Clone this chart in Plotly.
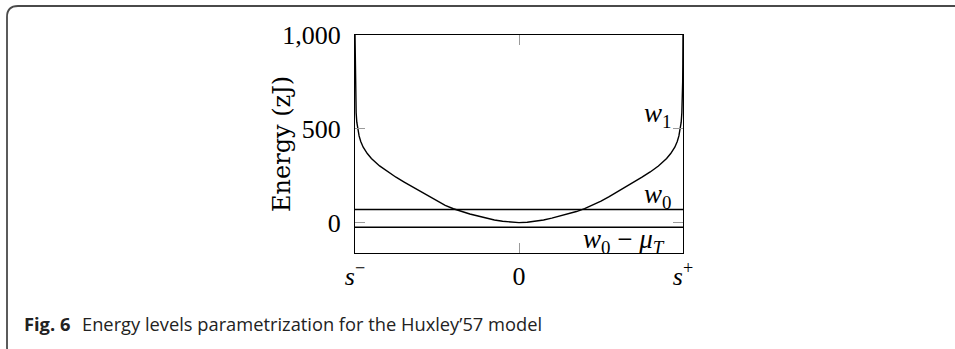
import plotly.graph_objects as go

# Position between the two binding sites, s- = -1 and s+ = +1
s_pos = [-1.0, -0.999, -0.998, -0.996, -0.993, -0.989, -0.983, -0.975, -0.965, -0.95,
         -0.925, -0.90, -0.85, -0.80, -0.75, -0.70, -0.65, -0.60, -0.55, -0.50,
         -0.45, -0.40, -0.35, -0.30, -0.25, -0.20, -0.15, -0.10, -0.05,
         0.0,
         0.05, 0.10, 0.15, 0.20, 0.25, 0.30, 0.35, 0.40, 0.45, 0.50,
         0.55, 0.60, 0.65, 0.70, 0.75, 0.80, 0.85, 0.90, 0.925, 0.95,
         0.965, 0.975, 0.983, 0.989, 0.993, 0.996, 0.998, 0.999, 1.0]
# Attached-state energy w1 (zJ)
w1 = [1000, 850, 750, 655, 585, 535, 495, 462, 432, 402,
      368, 342, 302, 270, 242, 216, 191, 163, 138, 114,
      92, 74, 59, 46, 35, 24, 14, 7, 2,
      0,
      2, 7, 14, 24, 35, 46, 59, 74, 92, 114,
      138, 163, 191, 216, 242, 270, 302, 342, 368, 402,
      432, 462, 495, 535, 585, 655, 750, 850, 1000]
# Detached-state energy levels (zJ)
w0 = 70
w0_minus_mu = -25

x_ticks = [-1, 0, 1]
x_tick_text = ["<i>s</i><sup>−</sup>", "0", "<i>s</i><sup>+</sup>"]
y_ticks = [0, 500, 1000]
y_tick_text = ["0", "500", "1,000"]

serif = "Liberation Serif"

fig = go.Figure()
fig.add_trace(go.Scatter(x=s_pos, y=w1, mode="lines",
                         line=dict(color="black", width=1.4),
                         hoverinfo="skip", showlegend=False))
for level in (w0, w0_minus_mu):
    fig.add_trace(go.Scatter(x=[-1, 1], y=[level, level], mode="lines",
                             line=dict(color="black", width=1.4),
                             hoverinfo="skip", showlegend=False))

L, R, T, B = 355, 272, 35, 96
W, H = 955, 349
PW, PH = W - L - R, H - T - B


def px(X):
    return (X - L) / PW


def py(Y):
    return 1 - (Y - T) / PH


# Rounded outer frame
frame = (f"M {px(20)},{py(360)} Q {px(7)},{py(360)} {px(7)},{py(347)} "
         f"L {px(7)},{py(17)} Q {px(7)},{py(6)} {px(18)},{py(6)} L {px(965)},{py(6)}")
fig.add_shape(type="path", path=frame, xref="paper", yref="paper",
              line=dict(color="#4a4a4a", width=1.8), layer="below")

lab_font = dict(family=serif, size=27, color="black")
fig.add_annotation(x=0.94, y=575, xref="x", yref="y", text="<i>w</i><sub>1</sub>",
                   showarrow=False, xanchor="right", yanchor="middle", font=lab_font)
fig.add_annotation(x=0.94, y=w0 + 74, xref="x", yref="y", text="<i>w</i><sub>0</sub>",
                   showarrow=False, xanchor="right", yanchor="middle", font=lab_font)
fig.add_annotation(x=0.90, y=w0_minus_mu - 72, xref="x", yref="y",
                   text="<i>w</i><sub>0</sub> − <i>μ</i><sub><i>T</i></sub>",
                   showarrow=False, xanchor="right", yanchor="middle", font=lab_font)

# Y axis title
fig.add_annotation(x=px(282), y=py(144), xref="paper", yref="paper", text="Energy (zJ)",
                   textangle=-90, showarrow=False, xanchor="center", yanchor="middle",
                   font=dict(family="DejaVu Serif", size=24, color="black"))

cap_font = dict(family="Open Sans", size=18.3, color="#222")
fig.add_annotation(x=px(22), y=py(323), xref="paper", yref="paper", text="<b>Fig. 6</b>",
                   showarrow=False, xanchor="left", yanchor="middle", font=cap_font)
fig.add_annotation(x=px(80), y=py(323), xref="paper", yref="paper",
                   text="Energy levels parametrization for the Huxley’57 model",
                   showarrow=False, xanchor="left", yanchor="middle", font=cap_font)

axis_common = dict(showline=True, linecolor="black", linewidth=1.3, mirror="ticks",
                   ticks="inside", ticklen=10, tickwidth=1, tickcolor="#9a9a9a",
                   showgrid=False, zeroline=False, tickfont=dict(family=serif, size=26, color="black"))

fig.update_xaxes(range=[-1, 1], tickvals=x_ticks, ticktext=x_tick_text,
                 ticklabelstandoff=0, **axis_common)
fig.update_yaxes(range=[-162, 1000], tickvals=y_ticks, ticktext=y_tick_text,
                 ticklabelstandoff=8, **axis_common)

fig.update_layout(width=W, height=H, margin=dict(l=L, r=R, t=T, b=B, pad=0),
                  plot_bgcolor="white", paper_bgcolor="white")

fig.write_html("out.html")
